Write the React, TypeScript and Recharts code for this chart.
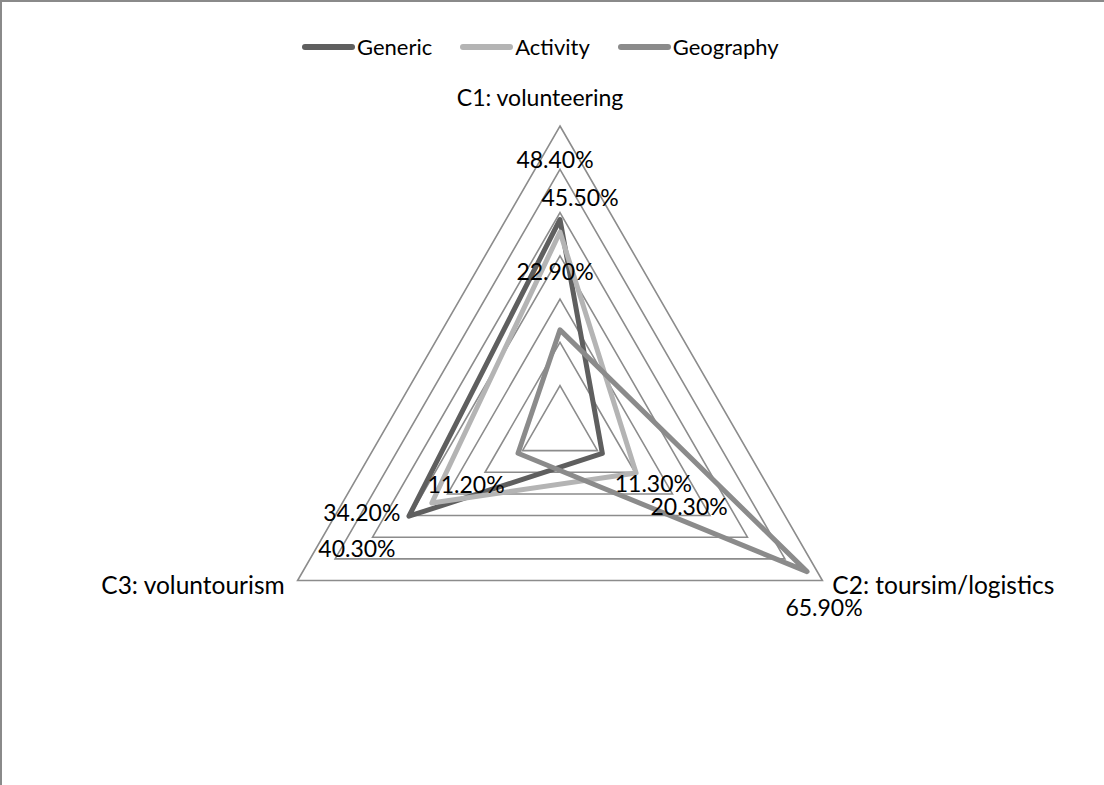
import React from 'react';
import {
  Legend,
  LabelList,
  PolarAngleAxis,
  PolarGrid,
  PolarRadiusAxis,
  Radar,
  RadarChart,
} from 'recharts';

const categories = ['C1: volunteering', 'C2: toursim/logistics', 'C3: voluntourism'];
const generic = [0.484, 0.113, 0.403];
const activity = [0.455, 0.203, 0.342];
const geography = [0.229, 0.659, 0.112];
const radiusTicks = [0, 0.1, 0.2, 0.3, 0.4, 0.5, 0.6, 0.7];

const FONT = 'Lato, "Open Sans", sans-serif';

const series = [
  { key: 'generic', name: 'Generic', color: '#5f5f5f' },
  { key: 'activity', name: 'Activity', color: '#b4b4b4' },
  { key: 'geography', name: 'Geography', color: '#8b8b8b' },
];

// label nudges (dx, dy from the point) per series, per category
const labelNudge: Record<string, [number, number][]> = {
  generic: [[-5, -60], [51, 30], [-52, 32]],
  activity: [[20, -35], [53, 33], [-70, 9]],
  geography: [[-5, -59], [17, 35], [-52, 31]],
};

const tickNudge: { dx: number; dy: number; anchor: 'middle' | 'start' | 'end'; size: number }[] = [
  { dx: -20, dy: -12, anchor: 'middle', size: 23 },
  { dx: 3, dy: 9, anchor: 'start', size: 24.5 },
  { dx: -6, dy: 9, anchor: 'end', size: 24.5 },
];

const data = categories.map((c, i) => ({
  axis: c,
  generic: generic[i],
  activity: activity[i],
  geography: geography[i],
}));

const pct = (v: number) => `${(v * 100).toFixed(2)}%`;

const AngleTick = (props: any) => {
  const { x, y, payload, index } = props;
  const n = tickNudge[index] ?? { dx: 0, dy: 0, anchor: 'middle', size: 23 };
  return (
    <text x={x + n.dx} y={y + n.dy} textAnchor={n.anchor} fontSize={n.size} fontFamily={FONT} fill="#000">
      {payload.value}
    </text>
  );
};

const makeLabel = (key: string) => (props: any) => {
  const { x, y, value, index } = props;
  const [dx, dy] = labelNudge[key][index] ?? [0, 0];
  return (
    <text
      x={x + dx}
      y={y + dy}
      textAnchor="middle"
      dominantBaseline="central"
      fontSize={23}
      fontFamily={FONT}
      fill="#000"
    >
      {pct(Number(value))}
    </text>
  );
};

const renderLegend = () => (
  <div
    style={{
      display: 'flex',
      justifyContent: 'flex-start',
      alignItems: 'center',
      gap: 28,
      fontFamily: FONT,
      fontSize: 22,
      color: '#000',
    }}
  >
    {series.map((s) => (
      <div key={s.key} style={{ display: 'flex', alignItems: 'center' }}>
        <span
          style={{
            display: 'inline-block',
            width: 53,
            height: 6,
            borderRadius: 3,
            background: s.color,
            marginRight: 2,
          }}
        />
        {s.name}
      </div>
    ))}
  </div>
);

export default function App() {
  return (
    <div
      style={{
        position: 'absolute',
        left: 0,
        top: 0,
        width: 1102,
        height: 783,
        borderTop: '2px solid #8a8a8a',
        borderLeft: '2px solid #8a8a8a',
        background: '#fff',
      }}
    >
      <RadarChart
        width={1102}
        height={783}
        data={data}
        cx={558}
        cy={427}
        outerRadius={303}
        margin={{ top: 0, right: 0, bottom: 0, left: 0 }}
      >
        <PolarGrid gridType="polygon" radialLines={false} stroke="#8c8c8c" strokeWidth={1.6} />
        <PolarAngleAxis dataKey="axis" tick={AngleTick} tickLine={false} axisLine={false} />
        <PolarRadiusAxis
          type="number"
          domain={[0, 0.7]}
          ticks={radiusTicks as any}
          tickCount={8}
          allowDecimals
          allowDataOverflow
          tick={() => <g />}
          axisLine={false}
        />
        {series.map((s) => (
          <Radar
            key={s.key}
            name={s.name}
            dataKey={s.key}
            stroke={s.color}
            strokeWidth={5}
            strokeLinejoin="round"
            fill="none"
            fillOpacity={0}
            dot={false}
            isAnimationActive={false}
          >
            <LabelList dataKey={s.key} content={makeLabel(s.key)} />
          </Radar>
        ))}
        <Legend
          verticalAlign="middle"
          align="center"
          layout="horizontal"
          content={renderLegend}
          wrapperStyle={{ top: 31, left: 300, width: 600 }}
        />
      </RadarChart>
    </div>
  );
}
